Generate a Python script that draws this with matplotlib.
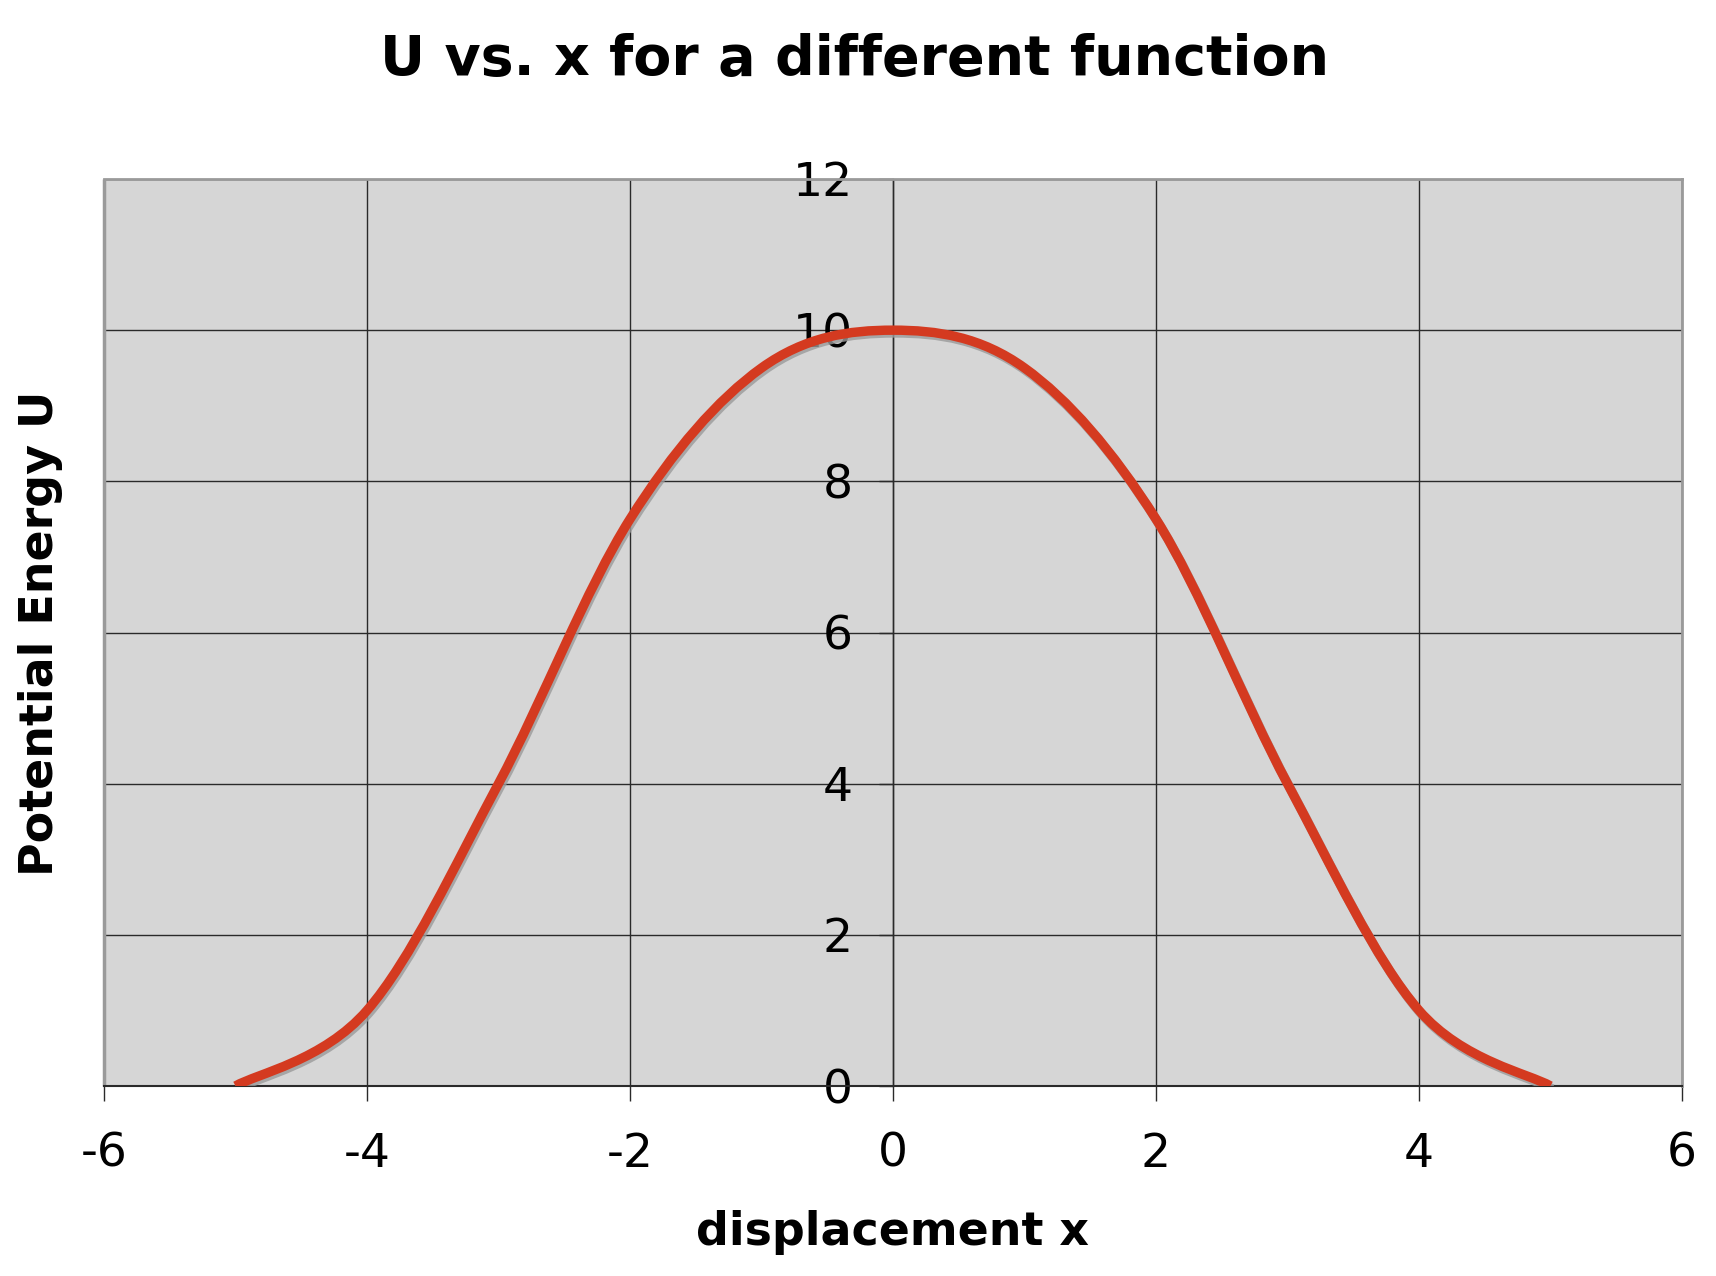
import matplotlib
matplotlib.use("Agg")
import matplotlib.pyplot as plt
import matplotlib.patheffects as pe
from matplotlib.path import Path
from matplotlib.patches import PathPatch, Rectangle
import numpy as np

# data
x_vals = [-5, -4, -3, -2, -1, 0, 1, 2, 3, 4, 5]
u_vals = [0, 1, 4, 7.5, 9.5, 10, 9.5, 7.5, 4, 1, 0]
x_ticks = [-6, -4, -2, 0, 2, 4, 6]
y_ticks = [0, 2, 4, 6, 8, 10, 12]
title = "U vs. x for a different function"
x_label = "displacement x"
y_label = "Potential Energy U"

plt.rcParams['font.family'] = ['DejaVu Sans']

fig = plt.figure(figsize=(17.16, 12.76), dpi=100)
ax = fig.add_axes([104/1716, 1 - 1086/1276, (1682-104)/1716, (1086-179)/1276])
ax.set_facecolor('#D6D6D6')
ax.set_xlim(-6, 6)
ax.set_ylim(0, 12)

# Excel-like smoothed line (Catmull-Rom as cubic Bezier)
pts = np.column_stack([x_vals, u_vals]).astype(float)
n = len(pts)
verts = [tuple(pts[0])]
codes = [Path.MOVETO]
for i in range(n - 1):
    p0 = pts[max(i - 1, 0)]
    p1 = pts[i]
    p2 = pts[i + 1]
    p3 = pts[min(i + 2, n - 1)]
    c1 = p1 + (p2 - p0) / 6.0
    c2 = p2 - (p3 - p1) / 6.0
    verts += [tuple(c1), tuple(c2), tuple(p2)]
    codes += [Path.CURVE4] * 3
path = Path(verts, codes)
patch = PathPatch(path, facecolor='none', edgecolor='#D43A20', lw=6.8,
                  capstyle='butt', joinstyle='round', zorder=3)
patch.set_path_effects([pe.SimpleLineShadow(offset=(1.2, -2.0), shadow_color='#9a9a9a', alpha=0.8),
                        pe.Normal()])
ax.add_patch(patch)

# grid
ax.set_xticks(x_ticks)
ax.set_yticks(y_ticks)
ax.grid(True, color='#2a2a2a', lw=1.0)
ax.set_axisbelow(True)

# spines
for s in ['top', 'right']:
    ax.spines[s].set_color('#9a9a9a')
    ax.spines[s].set_linewidth(2)
ax.spines['left'].set_position(('data', 0))
ax.spines['left'].set_color('#2a2a2a')
ax.spines['left'].set_linewidth(1.0)
ax.spines['bottom'].set_color('#2a2a2a')
ax.spines['bottom'].set_linewidth(1.5)
ax.add_patch(Rectangle((0, 0), 0.0, 1, transform=ax.transAxes, fill=False,
                       edgecolor='#9a9a9a', lw=2.5, clip_on=False, zorder=1))

ax.tick_params(axis='y', direction='out', length=10, width=1, color='#2a2a2a',
               labelsize=34, pad=19)
ax.tick_params(axis='x', direction='out', length=11, width=1, color='#2a2a2a',
               labelsize=34, pad=22)
ax.set_xticklabels([f"{v:g}" for v in x_ticks])
ax.set_yticklabels([f"{v:g}" for v in y_ticks])

ax.set_xlabel(x_label, fontsize=33, fontweight='bold', labelpad=24)
fig.text(18/1716, 1 - 633/1276, y_label, rotation=90, fontsize=33, fontweight='bold',
         ha='left', va='center')
fig.text(0.498, 1 - 60/1276, title, fontsize=40, fontweight='bold', ha='center', va='center')

fig.savefig('out.png', dpi=100)
